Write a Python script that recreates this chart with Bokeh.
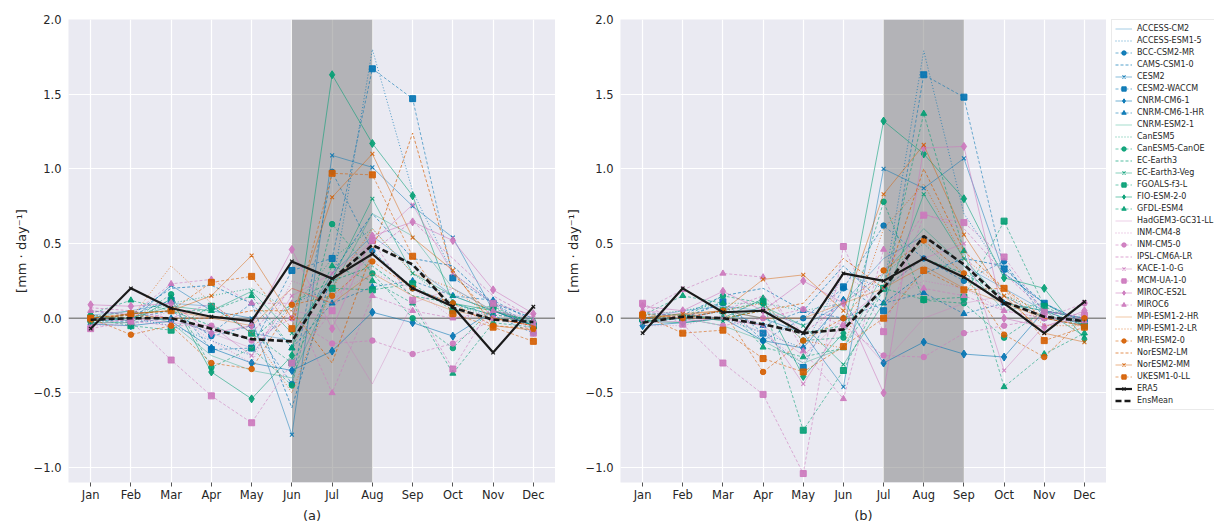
import math
from bokeh.plotting import figure
from bokeh.models import Range1d, FixedTicker, BoxAnnotation, Span, Legend, LegendItem
from bokeh.layouts import row
from bokeh.embed import file_html
from bokeh.resources import INLINE

# ---------------- data ----------------
MONTHS = ["Jan", "Feb", "Mar", "Apr", "May", "Jun", "Jul", "Aug", "Sep", "Oct", "Nov", "Dec"]
MODELS = ["ACCESS-CM2", "ACCESS-ESM1-5", "BCC-CSM2-MR", "CAMS-CSM1-0", "CESM2", "CESM2-WACCM",
          "CNRM-CM6-1", "CNRM-CM6-1-HR", "CNRM-ESM2-1", "CanESM5", "CanESM5-CanOE", "EC-Earth3",
          "EC-Earth3-Veg", "FGOALS-f3-L", "FIO-ESM-2-0", "GFDL-ESM4", "HadGEM3-GC31-LL", "INM-CM4-8",
          "INM-CM5-0", "IPSL-CM6A-LR", "KACE-1-0-G", "MCM-UA-1-0", "MIROC-ES2L", "MIROC6",
          "MPI-ESM1-2-HR", "MPI-ESM1-2-LR", "MRI-ESM2-0", "NorESM2-LM", "NorESM2-MM", "UKESM1-0-LL"]
SEASON_A = ["Jun", "Aug"]
SEASON_B = ["Jul", "Sep"]
Y_TICKS = [-1.0, -0.5, 0.0, 0.5, 1.0, 1.5, 2.0]
Y_UNIT = "[mm · day⁻¹]"
PANEL_LABELS = ["(a)", "(b)"]

# Panel (a)
A_ACCESS_CM2 = [0.02, 0.05, 0.10, 0.08, -0.10, -0.15, 0.30, 0.55, 0.35, 0.15, 0.05, -0.05]
A_ACCESS_ESM1_5 = [-0.03, 0.00, -0.05, -0.15, -0.25, 0.10, 0.20, 1.80, 0.85, 0.30, 0.10, -0.08]
A_BCC_CSM2_MR = [-0.02, 0.00, 0.05, -0.12, -0.05, -0.44, 0.98, 0.45, 0.20, 0.10, 0.02, -0.10]
A_CAMS_CSM1_0 = [0.05, 0.02, 0.20, 0.22, 0.10, -0.60, 0.30, 0.70, 0.40, 0.35, 0.10, 0.00]
A_CESM2 = [0.02, -0.02, 0.22, 0.05, 0.00, -0.78, 1.09, 1.01, 0.75, 0.54, 0.05, -0.05]
A_CESM2_WACCM = [0.00, 0.02, 0.12, -0.21, -0.20, 0.32, 0.40, 1.67, 1.47, 0.27, 0.10, -0.05]
A_CNRM_CM6_1 = [-0.04, -0.05, -0.02, -0.20, -0.30, -0.35, -0.22, 0.04, -0.03, -0.12, 0.05, -0.05]
A_CNRM_CM6_1_HR = [0.00, -0.03, 0.00, -0.10, 0.10, -0.20, 0.10, 0.21, 0.25, 0.15, 0.12, -0.02]
A_CNRM_ESM2_1 = [0.00, 0.05, -0.03, -0.25, -0.35, -0.40, 0.20, 0.70, 0.55, 0.20, 0.05, -0.05]
A_CANESM5 = [0.02, 0.00, 0.10, 0.15, 0.20, 0.05, 0.40, 0.60, 0.30, 0.10, 0.00, -0.02]
A_CANESM5_CANOE = [0.01, -0.02, 0.16, -0.33, -0.20, -0.45, 0.63, 0.30, 0.00, -0.20, 0.07, -0.05]
A_EC_EARTH3 = [-0.02, 0.03, 0.05, -0.05, -0.15, 0.10, 0.25, 0.35, 0.15, 0.10, 0.02, 0.00]
A_EC_EARTH3_VEG = [0.00, 0.00, 0.08, 0.05, 0.18, -0.10, 0.26, 0.80, 0.30, 0.15, 0.05, -0.03]
A_FGOALS_F3_L = [0.00, -0.05, -0.08, 0.08, -0.10, -0.30, 0.20, 0.19, 0.23, 0.05, 0.08, -0.05]
A_FIO_ESM_2_0 = [-0.03, -0.03, 0.13, -0.36, -0.54, -0.25, 1.63, 1.17, 0.82, 0.10, 0.05, -0.02]
A_GFDL_ESM4 = [0.03, 0.12, 0.05, 0.05, 0.15, -0.20, 0.35, 0.25, 0.10, -0.37, -0.03, -0.06]
A_HADGEM3_GC31_LL = [0.05, 0.03, 0.00, -0.10, -0.20, 0.05, 0.00, -0.44, 0.10, 0.20, 0.05, 0.00]
A_INM_CM4_8 = [-0.05, -0.05, 0.05, -0.15, -0.30, 0.25, 0.15, 0.30, 0.20, 0.00, 0.03, -0.03]
A_INM_CM5_0 = [0.00, -0.02, -0.05, -0.05, -0.15, 0.00, -0.17, -0.15, -0.24, -0.17, 0.00, -0.05]
A_IPSL_CM6A_LR = [0.07, 0.05, 0.00, 0.10, -0.10, 0.20, 0.10, 0.45, 0.65, 0.40, 0.15, 0.00]
A_KACE_1_0_G = [-0.05, 0.00, -0.03, -0.05, -0.25, 0.15, 0.30, 0.51, 0.76, 0.30, 0.10, 0.02]
A_MCM_UA_1_0 = [-0.07, -0.02, -0.28, -0.52, -0.70, -0.30, 0.05, 0.52, 0.12, -0.34, 0.10, -0.10]
A_MIROC_ES2L = [0.09, 0.08, 0.10, -0.10, -0.05, 0.46, -0.07, 0.55, 0.645, 0.52, 0.19, 0.03]
A_MIROC6 = [0.05, 0.02, 0.23, 0.26, 0.10, 0.10, -0.50, 0.15, 0.05, 0.00, 0.05, -0.02]
A_MPI_ESM1_2_HR = [0.00, 0.03, 0.05, 0.00, -0.05, 0.20, 0.10, 0.30, 0.15, 0.05, 0.00, -0.05]
A_MPI_ESM1_2_LR = [0.02, 0.00, 0.35, 0.10, -0.10, -0.50, 0.20, 0.60, 0.30, 0.20, 0.00, -0.05]
A_MRI_ESM2_0 = [0.00, -0.11, -0.05, -0.30, -0.34, 0.09, 0.15, 0.38, 0.20, 0.10, -0.05, -0.07]
A_NORESM2_LM = [0.00, 0.02, 0.00, 0.00, 0.05, 0.05, -0.30, 0.45, 1.24, 0.30, 0.00, -0.05]
A_NORESM2_MM = [-0.02, 0.03, 0.05, 0.15, 0.42, 0.00, 0.81, 1.10, 0.54, 0.32, -0.05, -0.08]
A_UKESM1_0_LL = [0.00, 0.03, 0.05, 0.24, 0.28, -0.07, 0.97, 0.96, 0.415, 0.03, -0.06, -0.155]
A_ERA5 = [-0.07, 0.20, 0.067, 0.01, -0.02, 0.38, 0.265, 0.43, 0.20, 0.078, -0.23, 0.077]
A_ENSMEAN = [-0.01, 0.00, 0.00, -0.07, -0.14, -0.155, 0.26, 0.49, 0.36, 0.07, -0.01, -0.025]

# Panel (b)
B_ACCESS_CM2 = [0.00, 0.05, 0.08, 0.05, -0.05, 0.10, 0.40, 0.55, 0.35, 0.20, 0.05, 0.00]
B_ACCESS_ESM1_5 = [-0.03, 0.00, 0.00, -0.10, -0.20, 0.30, 0.20, 1.79, 0.70, 0.30, 0.10, -0.05]
B_BCC_CSM2_MR = [-0.02, 0.00, 0.10, -0.15, 0.00, 0.20, 0.62, 0.40, 0.25, 0.38, 0.00, -0.05]
B_CAMS_CSM1_0 = [0.03, 0.02, 0.15, 0.20, 0.05, 0.35, 0.10, 0.30, 0.40, 0.35, 0.05, 0.00]
B_CESM2 = [0.00, 0.00, 0.05, 0.00, -0.10, -0.46, 1.00, 0.87, 1.07, 0.30, 0.10, -0.03]
B_CESM2_WACCM = [0.00, 0.00, 0.11, -0.10, -0.33, 0.21, 0.05, 1.63, 1.48, 0.33, 0.10, -0.03]
B_CNRM_CM6_1 = [-0.05, -0.03, 0.00, -0.15, -0.20, 0.12, -0.30, -0.16, -0.24, -0.26, 0.05, -0.05]
B_CNRM_CM6_1_HR = [0.00, 0.00, 0.05, -0.05, 0.05, 0.00, 0.10, 0.17, 0.03, 0.10, 0.05, 0.00]
B_CNRM_ESM2_1 = [-0.02, 0.00, -0.05, -0.15, -0.30, -0.20, 0.30, 0.60, 0.35, 0.05, 0.10, -0.05]
B_CANESM5 = [0.02, 0.05, 0.10, 0.10, 0.05, 0.10, 0.30, 0.50, 0.25, 0.15, 0.05, 0.00]
B_CANESM5_CANOE = [0.00, 0.00, 0.15, 0.10, -0.15, -0.13, 0.78, 0.12, 0.10, -0.13, 0.05, -0.05]
B_EC_EARTH3 = [-0.02, 0.02, 0.00, 0.05, -0.10, -0.05, 0.20, 0.40, 0.30, 0.15, 0.00, -0.02]
B_EC_EARTH3_VEG = [0.00, 0.03, -0.02, 0.08, -0.05, -0.31, 0.10, 0.83, 0.40, 0.10, 0.05, -0.12]
B_FGOALS_F3_L = [0.00, 0.00, 0.05, 0.11, -0.75, -0.35, 0.20, 0.125, 0.14, 0.65, 0.08, -0.05]
B_FIO_ESM_2_0 = [-0.02, -0.03, 0.00, 0.13, -0.39, -0.10, 1.32, 1.10, 0.80, 0.27, 0.20, -0.14]
B_GFDL_ESM4 = [0.02, 0.15, 0.10, -0.195, -0.26, -0.20, 0.20, 1.37, 0.45, -0.46, -0.24, -0.10]
B_HADGEM3_GC31_LL = [0.05, 0.03, 0.00, -0.05, -0.25, 0.00, -0.30, 0.00, 0.10, 0.15, 0.00, 0.00]
B_INM_CM4_8 = [-0.05, -0.05, 0.02, -0.10, -0.30, 0.30, 0.10, 0.25, 0.20, 0.05, 0.00, -0.03]
B_INM_CM5_0 = [0.00, 0.00, -0.05, 0.00, 0.06, -0.05, -0.25, -0.26, -0.10, -0.05, 0.00, 0.10]
B_IPSL_CM6A_LR = [0.05, 0.00, 0.05, 0.15, -0.10, 0.10, 0.30, 0.70, 0.60, 0.30, 0.05, 0.00]
B_KACE_1_0_G = [-0.03, -0.02, 0.00, -0.05, -0.44, -0.02, 0.20, 0.40, 0.50, -0.35, -0.05, 0.00]
B_MCM_UA_1_0 = [0.10, -0.04, -0.30, -0.51, -1.04, 0.48, -0.09, 0.69, 0.64, 0.41, 0.04, 0.02]
B_MIROC_ES2L = [0.08, 0.05, 0.18, 0.05, 0.25, 0.10, -0.50, 1.14, 1.15, 0.00, -0.06, 0.05]
B_MIROC6 = [0.05, 0.19, 0.30, 0.275, -0.22, -0.54, 0.46, 0.20, 0.15, 0.05, 0.00, -0.02]
B_MPI_ESM1_2_HR = [0.00, 0.02, 0.05, 0.00, 0.00, 0.10, 0.20, 0.35, 0.20, 0.10, 0.00, -0.05]
B_MPI_ESM1_2_LR = [0.02, 0.00, 0.05, 0.10, -0.15, -0.20, 0.60, 0.90, 0.40, 0.20, -0.05, -0.05]
B_MRI_ESM2_0 = [0.03, 0.00, 0.05, -0.36, -0.15, 0.00, 0.32, 0.52, 0.30, -0.11, -0.26, 0.00]
B_NORESM2_LM = [0.00, 0.00, 0.00, 0.05, 0.10, 0.40, 0.20, 1.00, 0.45, 0.20, 0.00, -0.05]
B_NORESM2_MM = [0.00, 0.03, 0.05, 0.26, 0.29, 0.05, 0.83, 1.16, 0.56, 0.15, -0.10, -0.16]
B_UKESM1_0_LL = [0.02, -0.10, -0.08, -0.27, -0.36, -0.19, 0.00, 0.32, 0.19, 0.20, -0.15, -0.06]
B_ERA5 = [-0.10, 0.20, 0.04, 0.05, -0.10, 0.30, 0.25, 0.40, 0.275, 0.10, -0.10, 0.11]
B_ENSMEAN = [-0.03, 0.01, 0.00, -0.04, -0.10, -0.075, 0.20, 0.55, 0.36, 0.11, 0.01, -0.02]

PANEL_A = [A_ACCESS_CM2, A_ACCESS_ESM1_5, A_BCC_CSM2_MR, A_CAMS_CSM1_0, A_CESM2, A_CESM2_WACCM,
           A_CNRM_CM6_1, A_CNRM_CM6_1_HR, A_CNRM_ESM2_1, A_CANESM5, A_CANESM5_CANOE, A_EC_EARTH3,
           A_EC_EARTH3_VEG, A_FGOALS_F3_L, A_FIO_ESM_2_0, A_GFDL_ESM4, A_HADGEM3_GC31_LL, A_INM_CM4_8,
           A_INM_CM5_0, A_IPSL_CM6A_LR, A_KACE_1_0_G, A_MCM_UA_1_0, A_MIROC_ES2L, A_MIROC6,
           A_MPI_ESM1_2_HR, A_MPI_ESM1_2_LR, A_MRI_ESM2_0, A_NORESM2_LM, A_NORESM2_MM, A_UKESM1_0_LL]
PANEL_B = [B_ACCESS_CM2, B_ACCESS_ESM1_5, B_BCC_CSM2_MR, B_CAMS_CSM1_0, B_CESM2, B_CESM2_WACCM,
           B_CNRM_CM6_1, B_CNRM_CM6_1_HR, B_CNRM_ESM2_1, B_CANESM5, B_CANESM5_CANOE, B_EC_EARTH3,
           B_EC_EARTH3_VEG, B_FGOALS_F3_L, B_FIO_ESM_2_0, B_GFDL_ESM4, B_HADGEM3_GC31_LL, B_INM_CM4_8,
           B_INM_CM5_0, B_IPSL_CM6A_LR, B_KACE_1_0_G, B_MCM_UA_1_0, B_MIROC_ES2L, B_MIROC6,
           B_MPI_ESM1_2_HR, B_MPI_ESM1_2_LR, B_MRI_ESM2_0, B_NORESM2_LM, B_NORESM2_MM, B_UKESM1_0_LL]

# ---------------- styling ----------------
FONT = "DejaVu Sans"
TXT = "#262626"
BG = "#EAEAF2"
BLACK = "#1a1a1a"
GROUP_COLORS = ["#0173B2", "#029E73", "#CC78BC", "#D55E00"]
STYLES = [
    dict(marker=None, dash="solid", alpha=0.45, size=0),
    dict(marker=None, dash="1 2", alpha=0.85, size=0),
    dict(marker="circle", dash="3 2", alpha=0.7, size=5.5),
    dict(marker=None, dash="3 2", alpha=0.85, size=0),
    dict(marker="x", dash="solid", alpha=0.6, size=5.5),
    dict(marker="square", dash="3 2", alpha=0.7, size=6),
    dict(marker="diamond", dash="solid", alpha=0.7, size=8),
    dict(marker="triangle", dash="3 2", alpha=0.7, size=6),
]


def model_style(i):
    return GROUP_COLORS[i // 8], STYLES[i % 8]


def draw_model(p, x, y, i):
    color, st = model_style(i)
    r_line = p.line(x, y, line_color=color, line_width=0.8, line_alpha=st["alpha"], line_dash=st["dash"])
    rs = [r_line]
    if st["marker"]:
        if st["marker"] == "x":
            r_m = p.scatter(x, y, marker="x", size=st["size"], line_color=color, line_width=1.1, line_alpha=0.85)
        else:
            r_m = p.scatter(x, y, marker=st["marker"], size=st["size"], fill_color=color,
                            line_color=color, fill_alpha=0.9, line_alpha=0.9)
        rs.append(r_m)
    return rs


def draw_refs(p, x, era5, ens):
    r1 = p.line(x, era5, line_color=BLACK, line_width=2.2)
    r2 = p.scatter(x, era5, marker="x", size=5, line_color=BLACK, line_width=1.2)
    r3 = p.line(x, ens, line_color=BLACK, line_width=2.6, line_dash="6 3")
    return [r1, r2], [r3]


def make_panel(models, era5, ens, season, label, border_left, border_right, border_top, fwidth):
    n = len(MONTHS)
    x = list(range(n))
    p = figure(frame_width=fwidth, frame_height=463,
               x_range=Range1d(-0.05 * (n - 1), (n - 1) * 1.05),
               y_range=Range1d(-1.1, 2.0),
               output_backend="svg", toolbar_location=None,
               min_border_left=border_left, min_border_right=border_right,
               min_border_top=border_top, min_border_bottom=0,
               background_fill_color=BG, border_fill_color="white", outline_line_color=None)
    # axes
    p.xaxis.ticker = FixedTicker(ticks=x)
    p.xaxis.major_label_overrides = {i: m for i, m in enumerate(MONTHS)}
    p.yaxis.ticker = FixedTicker(ticks=Y_TICKS)
    p.yaxis.major_label_overrides = {t: ("%.1f" % t).replace("-", "\u2212") for t in Y_TICKS}
    for ax in (p.xaxis[0], p.yaxis[0]):
        ax.axis_line_color = None
        ax.minor_tick_line_color = None
        ax.minor_tick_out = 0
        ax.minor_tick_in = 0
        ax.major_label_text_font = FONT
        ax.major_label_text_font_size = "11.5px"
        ax.major_label_text_color = TXT
        ax.axis_label_text_font = FONT
        ax.axis_label_text_font_size = "13px"
        ax.axis_label_text_font_style = "normal"
        ax.axis_label_text_color = TXT
    p.xaxis.major_tick_out = 4
    p.xaxis.major_tick_in = 0
    p.xaxis.major_tick_line_color = "#555555"
    p.xaxis.major_label_standoff = 1
    p.xaxis.axis_label = label
    p.xaxis.axis_label_standoff = 3
    p.yaxis.major_tick_line_color = None
    p.yaxis.major_tick_out = 0
    p.yaxis.major_tick_in = 0
    p.yaxis.major_label_standoff = 7
    p.yaxis.axis_label = Y_UNIT
    p.yaxis.axis_label_standoff = 2
    # grid
    p.xgrid.grid_line_color = "white"
    p.ygrid.grid_line_color = "white"
    p.xgrid.grid_line_width = 1.2
    p.ygrid.grid_line_width = 1.2
    # season shading and zero line
    p.add_layout(BoxAnnotation(left=MONTHS.index(season[0]), right=MONTHS.index(season[1]),
                               fill_color="#808080", fill_alpha=0.52, line_color=None, level="underlay"))
    p.add_layout(Span(location=0, dimension="width", line_color="#8a8a8a", line_width=1.5, level="underlay"))
    for i, vals in enumerate(models):
        draw_model(p, x, vals, i)
    draw_refs(p, x, era5, ens)
    return p


p1 = make_panel(PANEL_A, A_ERA5, A_ENSMEAN, SEASON_A, PANEL_LABELS[0], 68, 0, 17, 487)
p2 = make_panel(PANEL_B, B_ERA5, B_ENSMEAN, SEASON_B, PANEL_LABELS[1], 65, 0, 19, 486)

# ---------------- legend panel ----------------
p3 = figure(width=108, height=500, x_axis_type=None, y_axis_type=None,
            x_range=Range1d(0, 1), y_range=Range1d(0, 1),
            output_backend="svg", toolbar_location=None,
            min_border_left=5, min_border_top=15, min_border_right=0, min_border_bottom=0,
            outline_line_color=None, background_fill_color="white", border_fill_color="white")
p3.xgrid.visible = False
p3.ygrid.visible = False
nan = float("nan")
items = []
for i, name in enumerate(MODELS):
    rs = draw_model(p3, [nan], [nan], i)
    items.append(LegendItem(label=name, renderers=rs))
era_rs, ens_rs = draw_refs(p3, [nan], [nan], [nan])
items.append(LegendItem(label="ERA5", renderers=era_rs))
items.append(LegendItem(label="EnsMean", renderers=ens_rs))
legend = Legend(items=items, location="top_left", margin=0, padding=3, spacing=1,
                glyph_width=17, glyph_height=11, label_height=11, label_standoff=5,
                label_text_font=FONT, label_text_font_size="8px", label_text_color=TXT,
                border_line_color="#d5d5d5", border_line_width=1,
                background_fill_color="white", background_fill_alpha=1.0)
p3.add_layout(legend)

layout = row(p1, p2, p3)
open("out.html", "w").write(file_html(layout, INLINE, "chart"))
